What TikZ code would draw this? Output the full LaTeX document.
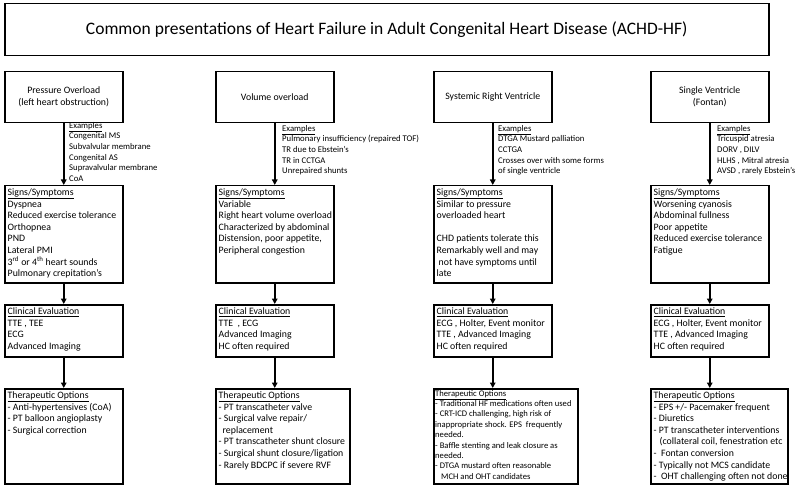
\documentclass[tikz,border=0pt]{standalone}
\usepackage{fontspec}
\setmainfont{Carlito}
\usetikzlibrary{arrows.meta}
\tikzset{
  boxframe/.style={draw, line width=1.5pt, inner sep=0pt, anchor=north west},
  boxtext/.style={anchor=north west, align=left, inner sep=3.5pt, font=\fontsize{9.8}{11.6}\selectfont},
  extext/.style={anchor=north west, align=left, inner sep=0pt, font=\fontsize{8.7}{10.6}\selectfont},
  flowarrow/.style={line width=1.5pt, -{Triangle[length=5.5pt,width=5.5pt]}}
}

\begin{document}
\begin{tikzpicture}[x=1pt, y=-1pt]
			\useasboundingbox (0,0) rectangle (800,486);
			%%%%% START %%%%%
			
			\node[boxframe, minimum width=764, minimum height=52, font=\fontsize{17.5}{21}\selectfont] (title) at (4,3) {Common presentations of Heart Failure in Adult Congenital Heart Disease (ACHD-HF)};
			
			% pressure overload
			\node[boxframe, minimum width=118, minimum height=51, align=center, font=\fontsize{9.8}{12}\selectfont] (pres) at (4,71) {Pressure Overload\\(left heart obstruction)};
			\node[extext] (presEx) at (69,122) {\underline{Examples}\\Congenital MS\\Subvalvular membrane\\Congenital AS\\Supravalvular membrane\\CoA};
			\node[boxframe, minimum width=118, minimum height=97] (presSign) at (4,185) {};
			\node[boxtext] (presSignT) at (presSign.north west) {\underline{Signs/Symptoms}\\Dyspnea\\Reduced exercise tolerance\\Orthopnea\\PND\\Lateral PMI\\3\textsuperscript{rd} or 4\textsuperscript{th} heart sounds\\Pulmonary crepitation's};
			\node[boxframe, minimum width=118, minimum height=52] (presEval) at (4,304) {};
			\node[boxtext] (presEvalT) at (presEval.north west) {\underline{Clinical Evaluation}\\TTE , TEE\\ECG\\Advanced Imaging};
			\node[boxframe, minimum width=118, minimum height=95] (presTher) at (4,388) {};
			\node[boxtext] (presTherT) at (presTher.north west) {\underline{Therapeutic Options}\\- Anti-hypertensives (CoA)\\- PT balloon angioplasty\\- Surgical correction};
			
			% volume overload
			\node[boxframe, minimum width=118, minimum height=51, align=center, font=\fontsize{9.8}{12}\selectfont] (vol) at (215,71) {Volume overload};
			\node[extext] (volEx) at (282,125) {\underline{Examples}\\Pulmonary insufficiency (repaired TOF)\\TR due to Ebstein’s\\TR in CCTGA\\Unrepaired shunts};
			\node[boxframe, minimum width=118, minimum height=97] (volSign) at (215,185) {};
			\node[boxtext] (volSignT) at (volSign.north west) {\underline{Signs/Symptoms}\\Variable\\Right heart volume overload\\Characterized by abdominal\\Distension, poor appetite,\\Peripheral congestion};
			\node[boxframe, minimum width=118, minimum height=52] (volEval) at (215,304) {};
			\node[boxtext] (volEvalT) at (volEval.north west) {\underline{Clinical Evaluation}\\TTE~~, ECG\\Advanced Imaging\\HC often required};
			\node[boxframe, minimum width=134, minimum height=95] (volTher) at (215,388) {};
			\node[boxtext] (volTherT) at (volTher.north west) {\underline{Therapeutic Options}\\- PT transcatheter valve\\- Surgical valve repair/\\\hspace*{4pt}replacement\\- PT transcatheter shunt closure\\- Surgical shunt closure/ligation\\- Rarely BDCPC if severe RVF};
			
			% systemic right ventricle
			\node[boxframe, minimum width=118, minimum height=51, align=center, font=\fontsize{9.8}{12}\selectfont] (srv) at (433,71) {Systemic Right Ventricle};
			\node[extext] (srvEx) at (498,125) {\underline{Examples}\\DTGA Mustard palliation\\CCTGA\\Crosses over with some forms\\of single ventricle};
			\node[boxframe, minimum width=118, minimum height=97] (srvSign) at (433,185) {};
			\node[boxtext] (srvSignT) at (srvSign.north west) {\underline{Signs/Symptoms}\\Similar to pressure\\overloaded heart\\[11.6pt]CHD patients tolerate this\\Remarkably well and may\\\hspace*{2pt}not have symptoms until\\late};
			\node[boxframe, minimum width=118, minimum height=52] (srvEval) at (433,304) {};
			\node[boxtext] (srvEvalT) at (srvEval.north west) {\underline{Clinical Evaluation}\\ECG , Holter, Event monitor\\TTE , Advanced Imaging\\HC often required};
			\node[boxframe, minimum width=144, minimum height=95] (srvTher) at (433,388) {};
			\node[boxtext, inner sep=2pt, font=\fontsize{8.6}{10.4}\selectfont] (srvTherT) at (srvTher.north west) {\underline{Therapeutic Options}\\- Traditional HF medications often used\\- CRT-ICD challenging, high risk of\\inappropriate shock. EPS~ frequently\\needed.\\- Baffle stenting and leak closure as\\needed.\\- DTGA mustard often reasonable\\\hspace*{6pt}MCH and OHT candidates};
			
			% single ventricle
			\node[boxframe, minimum width=118, minimum height=51, align=center, font=\fontsize{9.8}{12}\selectfont] (sv) at (650,71) {Single Ventricle\\(Fontan)};
			\node[extext] (svEx) at (717,125) {\underline{Examples}\\Tricuspid atresia\\DORV , DILV\\HLHS , Mitral atresia\\AVSD , rarely Ebstein’s};
			\node[boxframe, minimum width=118, minimum height=97] (svSign) at (650,185) {};
			\node[boxtext] (svSignT) at (svSign.north west) {\underline{Signs/Symptoms}\\Worsening cyanosis\\Abdominal fullness\\Poor appetite\\Reduced exercise tolerance\\Fatigue};
			\node[boxframe, minimum width=118, minimum height=52] (svEval) at (650,304) {};
			\node[boxtext] (svEvalT) at (svEval.north west) {\underline{Clinical Evaluation}\\ECG , Holter, Event monitor\\TTE , Advanced Imaging\\HC often required};
			\node[boxframe, minimum width=137, minimum height=95] (svTher) at (650,388) {};
			\node[boxtext] (svTherT) at (svTher.north west) {\underline{Therapeutic Options}\\- EPS +/- Pacemaker frequent\\- Diuretics\\- PT transcatheter interventions\\\hspace*{6pt}(collateral coil, fenestration etc\\-~ Fontan conversion\\- Typically not MCS candidate\\-~ OHT challenging often not done};
			
			% arrows
			\draw[flowarrow] (pres.south) -- (presSign.north);
			\draw[flowarrow] (presSign.south) -- (presEval.north);
			\draw[flowarrow] (presEval.south) -- (presEval.south |- presTher.north);
			
			\draw[flowarrow] (vol.south) -- (volSign.north);
			\draw[flowarrow] (volSign.south) -- (volEval.north);
			\draw[flowarrow] (volEval.south) -- (volEval.south |- volTher.north);
			
			\draw[flowarrow] (srv.south) -- (srvSign.north);
			\draw[flowarrow] (srvSign.south) -- (srvEval.north);
			\draw[flowarrow] (srvEval.south) -- (srvEval.south |- srvTher.north);
			
			\draw[flowarrow] (sv.south) -- (svSign.north);
			\draw[flowarrow] (svSign.south) -- (svEval.north);
			\draw[flowarrow] (svEval.south) -- (svEval.south |- svTher.north);
			
			%%%%% END %%%%%
\end{tikzpicture}
\end{document}
